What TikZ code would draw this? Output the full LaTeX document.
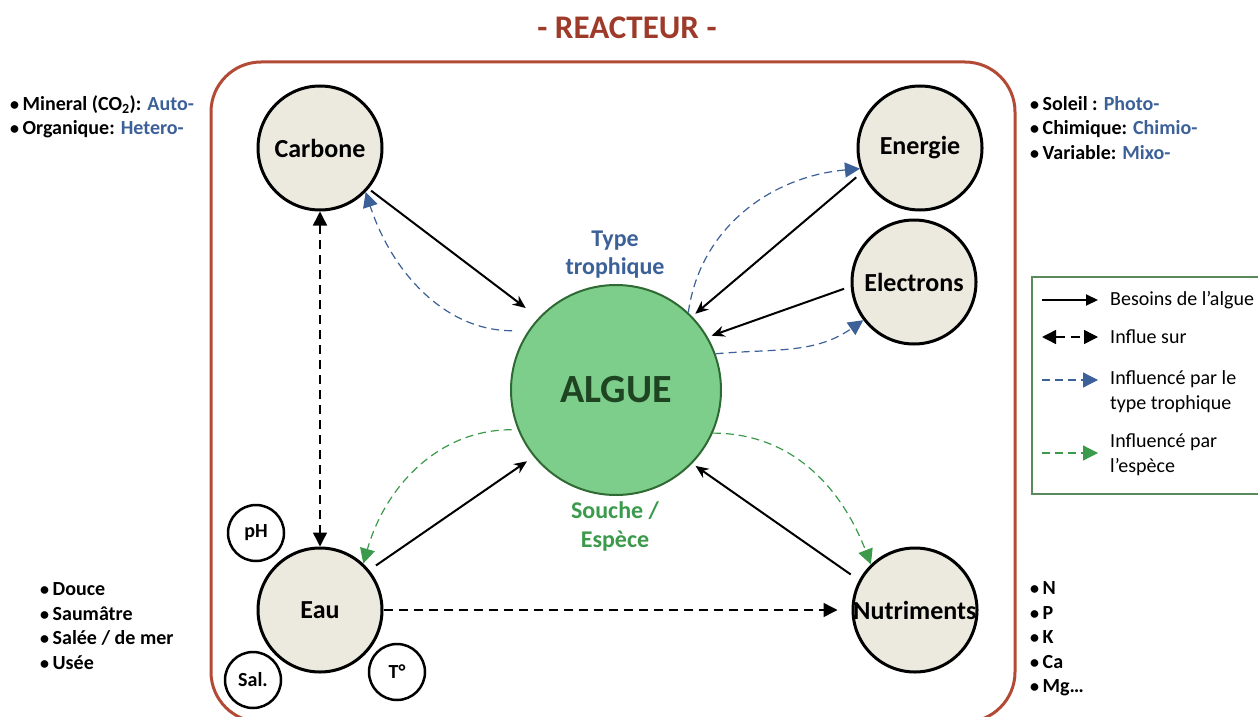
\documentclass[tikz,border=0pt]{standalone}
\usepackage{fontspec}
\setmainfont{Carlito}
\usetikzlibrary{arrows.meta}
\definecolor{reac}{HTML}{B24A36}
\definecolor{titlec}{HTML}{9E3A2A}
\definecolor{resfill}{HTML}{ECEADF}
\definecolor{algfill}{HTML}{7DCD8B}
\definecolor{algdraw}{HTML}{2F6A34}
\definecolor{algtext}{HTML}{1E4422}
\definecolor{blu}{HTML}{3C6098}
\definecolor{grn}{HTML}{3C9A4C}
\definecolor{legc}{HTML}{5A8A5A}
\newcommand{\bul}{{\fontsize{18}{18}\selectfont •}\hspace{3.5pt}}
\begin{document}
\begin{tikzpicture}[x=1pt,y=-1pt,
  res/.style={circle, draw=black, line width=3pt, fill=resfill, minimum size=124pt, inner sep=0pt, font=\bfseries\fontsize{26}{30}\selectfont},
  restext/.style={font=\bfseries\fontsize{26}{30}\selectfont, inner sep=0pt},
  smallc/.style={circle, draw=black, line width=2.5pt, fill=white, minimum size=56pt, inner sep=0pt, font=\bfseries\fontsize{20}{22}\selectfont},
  side/.style={font=\bfseries\fontsize{20}{24.5}\selectfont, align=left, inner sep=0pt},
  legtext/.style={font=\fontsize{20}{25}\selectfont, align=left, inner sep=0pt, anchor=west},
  need/.style={line width=2pt, -{Stealth[length=13pt,width=11pt]}},
  legneed/.style={line width=2pt, -{Triangle[length=12pt,width=11pt]}},
  infl/.style={line width=1.5pt, dash pattern=on 9pt off 6pt},
  itip/.style={-{Triangle[length=14pt,width=14pt]}},
  itips/.style={{Triangle[length=14pt,width=14pt]}-{Triangle[length=14pt,width=14pt]}},
  troph/.style={blu, line width=1.2pt, dash pattern=on 8pt off 5pt, -{Triangle[length=15pt,width=15pt]}},
  espe/.style={grn, line width=1.2pt, dash pattern=on 8pt off 5pt, -{Triangle[length=15pt,width=15pt]}}
]
\useasboundingbox (0,0) rectangle (1258,717);
\fill[white] (0,0) rectangle (1258,717);

% reactor
\draw[reac, line width=3pt, rounded corners=50pt] (211,62) rectangle (1015,722);
\node[font=\bfseries\fontsize{33}{36}\selectfont, text=titlec] (title) at (627,28) {- REACTEUR -};

% resource circles
\node[res] (carb) at (320,148) {Carbone};
\node[res] (ener) at (920,148) {Energie};
\node[res] (elec) at (914,282) {Electrons};
\node[res] (eau) at (320,610) {Eau};
\node[res] (nut) at (915,610) {};
\node[restext] (nutl) at (nut) {Nutriments};

% small circles
\node[smallc] (ph) at (256,533) {pH};
\node[smallc] (sal) at (253,680) {Sal.};
\node[smallc] (temp) at (397,672) {T°};

% algae
\node[circle, draw=algdraw, line width=2pt, fill=algfill, minimum size=210pt, inner sep=0pt,
      font=\bfseries\fontsize{40}{48}\selectfont, text=algtext] (alg) at (616,390) {ALGUE};

\node[font=\bfseries\fontsize{24}{28}\selectfont, text=blu, align=center] (tt) at (615,255) {Type\\trophique};
\node[font=\bfseries\fontsize{24}{29}\selectfont, text=grn, align=center] (se) at (615,526) {Souche /\\Espèce};

% needs
\draw[need, shorten <=3pt, shorten >=16pt] (carb.-40) -- (alg.137);
\draw[need, shorten <=7pt, shorten >=4pt] (ener.203) -- (alg.44);
\draw[need, shorten <=7pt, shorten >=4pt] (elec.184) -- (alg.30);
\draw[need, shorten <=8pt, shorten >=8pt] (eau.39) -- (alg.219);
\draw[need, shorten <=10pt, shorten >=4pt] (nut.152) -- (alg.-44);

% influences
\draw[infl, itips] (carb.south) -- (eau.north);
\draw[infl, itip, shorten >=14pt] (eau.east) -- (nut.west);

% trophic type
\draw[troph, shorten <=16pt] (alg.146) to[out=180, in=-72] (carb.-44);
\draw[troph] (alg.47) to[out=82, in=185] (ener.199);
\draw[troph] (alg.20) to[out=5, in=215] (elec.217);

% species
\draw[espe, shorten <=6pt] (alg.202) to[out=180, in=74] (eau.47);
\draw[espe] (alg.-24) to[out=0, in=111] (nut.134);

% side texts
\node[side, anchor=west] (carbtxt) at (10,117) {\bul Mineral (CO\textsubscript{2}): \textcolor{blu}{Auto-}\\\bul Organique: \textcolor{blu}{Hetero-}};
\node[side, anchor=west] (enertxt) at (1030,128) {\bul Soleil : \textcolor{blu}{Photo-}\\\bul Chimique: \textcolor{blu}{Chimio-}\\\bul Variable: \textcolor{blu}{Mixo-}};
\node[side, anchor=west] (eautxt) at (40,626) {\bul Douce\\\bul Saumâtre\\\bul Salée / de mer\\\bul Usée};
\node[side, anchor=west] (nuttxt) at (1030,639) {\bul N\\\bul P\\\bul K\\\bul Ca\\\bul Mg…};

% legend
\draw[legc, line width=1.5pt] (1032,277) rectangle (1275,494);
\coordinate (l1a) at (1042,300); \coordinate (l1b) at (1098,300);
\coordinate (l2a) at (1042,337); \coordinate (l2b) at (1098,337);
\coordinate (l3a) at (1042,380); \coordinate (l3b) at (1098,380);
\coordinate (l4a) at (1042,453); \coordinate (l4b) at (1098,453);
\draw[legneed] (l1a) -- (l1b);
\draw[infl, itips] (l2a) -- (l2b);
\draw[troph] (l3a) -- (l3b);
\draw[espe] (l4a) -- (l4b);
\node[legtext] (lt1) at (1110,300) {Besoins de l’algue};
\node[legtext] (lt2) at (1110,337) {Influe sur};
\node[legtext] (lt3) at (1110,392) {Influencé par le\\type trophique};
\node[legtext] (lt4) at (1110,455) {Influencé par\\l’espèce};
\end{tikzpicture}
\end{document}
